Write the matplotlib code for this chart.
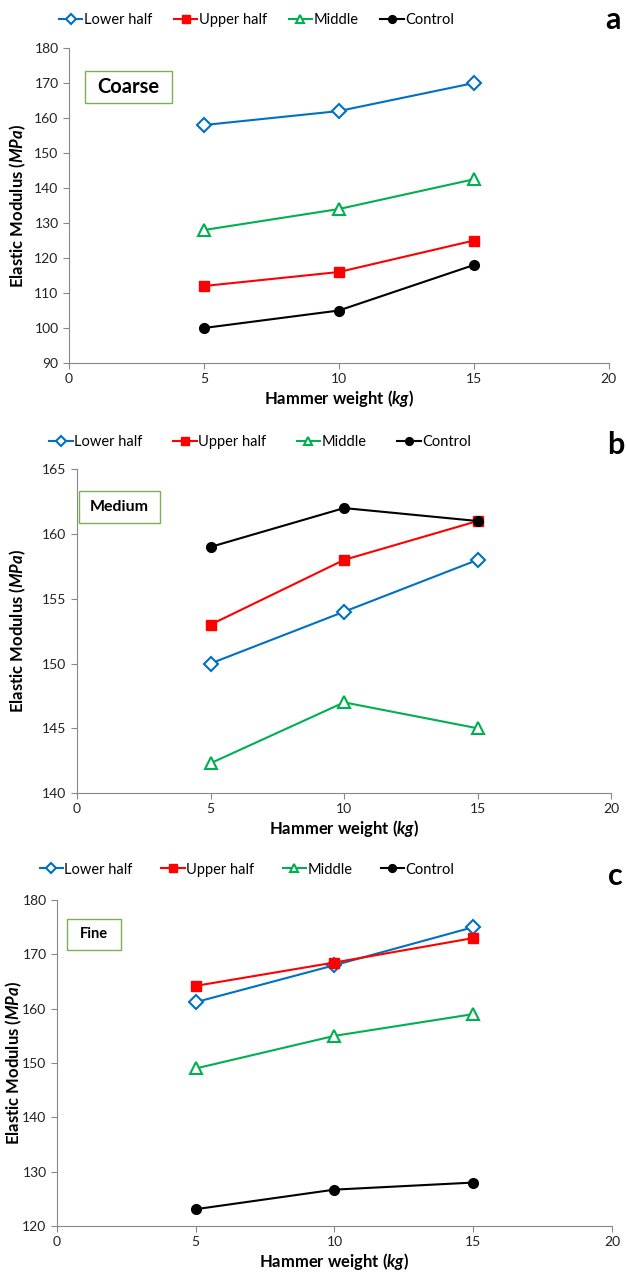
import matplotlib
matplotlib.use('Agg')
import matplotlib.pyplot as plt
from matplotlib.patches import Rectangle

plt.rcParams['font.family'] = ['Lato', 'DejaVu Sans']
plt.rcParams['mathtext.fontset'] = 'custom'
plt.rcParams['mathtext.rm'] = 'Lato'
plt.rcParams['mathtext.it'] = 'Lato:italic'
plt.rcParams['mathtext.bf'] = 'Lato:bold'
plt.rcParams['mathtext.bfit'] = 'Lato:italic:bold'

# data
weights = [5, 10, 15]
series_names = ['Lower half', 'Upper half', 'Middle', 'Control']

coarse_lower = [158, 162, 170]
coarse_upper = [112, 116, 125]
coarse_middle = [128, 134, 142.5]
coarse_control = [100, 105, 118]

medium_lower = [150, 154, 158]
medium_upper = [153, 158, 161]
medium_middle = [142.3, 147, 145]
medium_control = [159, 162, 161]

fine_lower = [161.2, 168, 175]
fine_upper = [164.2, 168.5, 173]
fine_middle = [149, 155, 159]
fine_control = [123.1, 126.7, 128]

styles = [
    dict(color='#0070C0', marker='D', mfc='white', mec='#0070C0', ms=7, mew=1.5),
    dict(color='#FF0000', marker='s', mfc='#FF0000', mec='#FF0000', ms=7.5),
    dict(color='#00B050', marker='^', mfc='white', mec='#00B050', ms=8, mew=1.5),
    dict(color='black', marker='o', mfc='black', mec='black', ms=7),
]

fig = plt.figure(figsize=(6.27, 12.75), dpi=100)

panels = [
    # rect, data, ylim, yticks, box rect, label, label size, letter, legend pos, colspacing, letter pos, ylabel x
    ([0.110, 0.7153, 0.861, 0.247],
     [coarse_lower, coarse_upper, coarse_middle, coarse_control],
     (90, 180), range(90, 181, 10), (0.03, 0.825, 0.16, 0.102), 'Coarse', 14.5, 'a',
     (0.409, 0.984), 1.5, (0.978, 0.984), -0.094),
    ([0.1228, 0.378, 0.852, 0.254],
     [medium_lower, medium_upper, medium_middle, medium_control],
     (140, 165), range(140, 166, 5), (0.004, 0.833, 0.151, 0.099), 'Medium', 11.5, 'b',
     (0.415, 0.653), 2.1, (0.982, 0.651), -0.110),
    ([0.0909, 0.0384, 0.885, 0.2557],
     [fine_lower, fine_upper, fine_middle, fine_control],
     (120, 180), range(120, 181, 10), (0.018, 0.847, 0.097, 0.095), 'Fine', 10.5, 'c',
     (0.394, 0.318), 1.95, (0.982, 0.313), -0.078),
]

for rect, data, ylim, yticks, box, label, lsize, letter, legpos, colsp, letpos, ylx in panels:
    ax = fig.add_axes(rect)
    lines = []
    for vals, st, name in zip(data, styles, series_names):
        ln, = ax.plot(weights, vals, lw=1.5, label=name, **st)
        lines.append(ln)
    ax.set_xlim(0, 20)
    ax.set_xticks([0, 5, 10, 15, 20])
    ax.set_ylim(*ylim)
    ax.set_yticks(list(yticks))
    for s in ['top', 'right']:
        ax.spines[s].set_visible(False)
    for s in ['left', 'bottom']:
        ax.spines[s].set_color('#888888')
    ax.tick_params(direction='out', length=4, color='#888888', labelsize=10,
                   labelcolor='#222222')
    ax.set_xlabel('Hammer weight ($\\mathbfit{kg}$)', fontsize=12, fontweight='bold',
                  labelpad=2)
    ax.set_ylabel('Elastic Modulus ($\\mathbfit{MPa}$)', fontsize=12, fontweight='bold',
                  va='center')
    ax.yaxis.set_label_coords(ylx, 0.5)
    ax.add_patch(Rectangle((box[0], box[1]), box[2], box[3], transform=ax.transAxes,
                           fill=False, edgecolor='#77B255', lw=1, clip_on=False))
    ax.text(box[0] + box[2] / 2, box[1] + box[3] / 2, label, transform=ax.transAxes,
            ha='center', va='center', fontsize=lsize, fontweight='bold')
    fig.legend(handles=lines, loc='center', bbox_to_anchor=legpos, ncol=4,
               frameon=False, fontsize=10.5, handlelength=1.6, handletextpad=0.1,
               columnspacing=colsp, markerscale=0.8)
    fig.text(letpos[0], letpos[1], letter, ha='center', va='center', fontsize=22,
             fontweight='bold')

fig.savefig('out.png', dpi=100)
